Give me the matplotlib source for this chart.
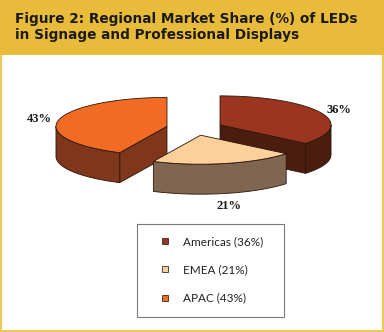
import numpy as np
import matplotlib.pyplot as plt
from matplotlib.patches import Polygon, Rectangle
from matplotlib.lines import Line2D

# data
regions = ["Americas", "EMEA", "APAC"]
shares = [36, 21, 43]
top_colors = ["#9b3520", "#fccf9b", "#f26b22"]
side_colors = ["#4b1d0f", "#806651", "#80361b"]

title = "Figure 2: Regional Market Share (%) of LEDs\nin Signage and Professional Displays"

# geometry of the 3d pie (pixels)
cx, cy = 194.5, 128.0
rx, ry = 111.0, 29.0
depth = 30.0
explode = 0.254
edge = "#2a160c"

fig = plt.figure(figsize=(3.84, 3.32), dpi=100)
ax = fig.add_axes([0, 0, 1, 1])
ax.set_xlim(0, 384)
ax.set_ylim(332, 0)
ax.axis("off")

# frame + header band
ax.add_patch(Rectangle((0.8, 0), 382.4, 330.8, facecolor="white",
                       edgecolor="#eccb5c", lw=1.6, zorder=0))
ax.add_patch(Rectangle((0, 0), 384, 55, facecolor="#e8bc3a", edgecolor="none", zorder=1))
ax.text(15, 27, title, fontsize=9.85, family="DejaVu Sans", fontweight="bold",
        color="#1c1a14", va="center", ha="left", linespacing=1.17, zorder=2)


def pt(c, th, dz=0.0):
    return (c[0] + rx * np.sin(th), c[1] - ry * np.cos(th) + dz)


fracs = np.array(shares) / sum(shares)
starts = np.concatenate([[0], np.cumsum(fracs)[:-1]]) * 2 * np.pi
ends = np.cumsum(fracs) * 2 * np.pi

# draw back slices first, front last
mids = (starts + ends) / 2
order = np.argsort(-np.cos(mids))
z = 3
for i in order:
    a0, a1, m = starts[i], ends[i], mids[i]
    c = (cx + explode * rx * np.sin(m), cy - explode * ry * np.cos(m))
    # radial faces
    for th, vis in ((a0, np.sin(a0) < -1e-6), (a1, np.sin(a1) > 1e-6)):
        if vis:
            p = pt(c, th)
            poly = [c, p, (p[0], p[1] + depth), (c[0], c[1] + depth)]
            ax.add_patch(Polygon(poly, closed=True, facecolor=side_colors[i],
                                 edgecolor=edge, lw=0.6, zorder=z))
            z += 1
    # outer wall (front half of rim)
    lo, hi = max(a0, np.pi / 2), min(a1, 3 * np.pi / 2)
    if hi > lo:
        t = np.linspace(lo, hi, 60)
        top = [pt(c, th) for th in t]
        bot = [pt(c, th, depth) for th in t[::-1]]
        ax.add_patch(Polygon(top + bot, closed=True, facecolor=side_colors[i],
                             edgecolor=edge, lw=0.6, zorder=z))
        z += 1
    # top face
    t = np.linspace(a0, a1, 100)
    poly = [c] + [pt(c, th) for th in t]
    ax.add_patch(Polygon(poly, closed=True, facecolor=top_colors[i],
                         edgecolor=edge, lw=0.6, zorder=z))
    z += 1
    # percentage label
    lx, ly = pt(c, m)
    lx = c[0] + 1.18 * (lx - c[0])
    ly = c[1] + 1.18 * (ly - c[1])
    if np.cos(m) < 0:
        ly += depth + 1
        va = "top"
    else:
        va = "center"
    ax.text(lx, ly, f"{shares[i]}%", family="Liberation Serif", fontweight="bold",
            fontsize=9, color="#1a1a1a", ha="center", va=va, zorder=20)

# legend
ax.add_patch(Rectangle((137, 224), 147, 93, facecolor="white", edgecolor="#7a7a7a",
                       lw=0.8, zorder=20))
handles = [Line2D([], [], ls="none", marker="s", markersize=5, markerfacecolor=col,
                  markeredgecolor="#3a2a20", markeredgewidth=0.6) for col in top_colors]
labels = [f"{r} ({s}%)" for r, s in zip(regions, shares)]
leg = ax.legend(handles, labels, loc="upper left", bbox_to_anchor=(153, 230.5),
                bbox_transform=ax.transData, frameon=False, handlelength=1.0,
                handletextpad=1.0, labelspacing=1.45, borderpad=0,
                prop={"family": "Lato", "size": 8.5})
for t in leg.get_texts():
    t.set_color("#222222")
leg.set_zorder(21)

fig.savefig("out.png", dpi=100)
